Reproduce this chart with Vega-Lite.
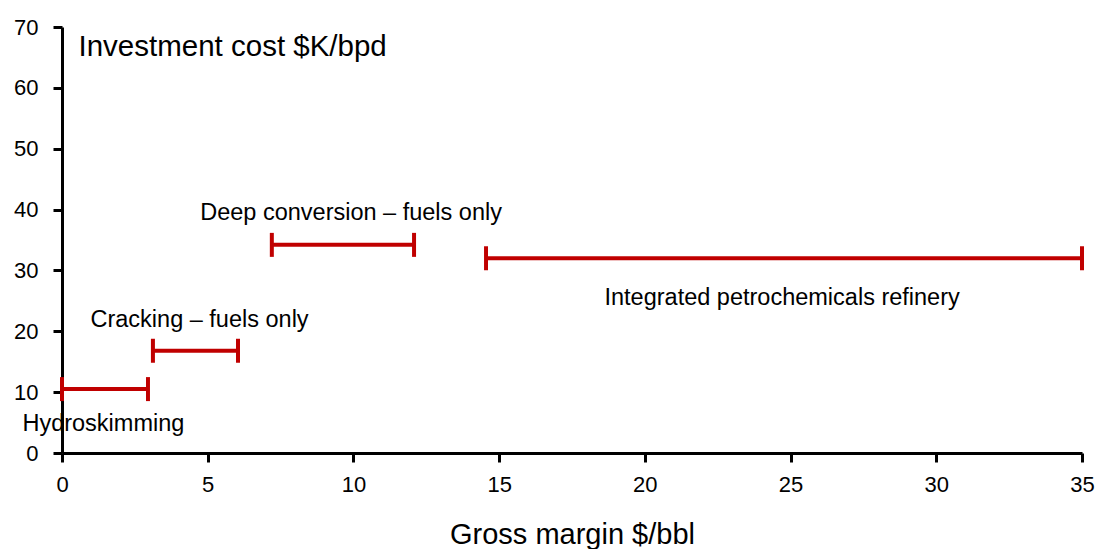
{
  "$schema": "https://vega.github.io/schema/vega-lite/v6.json",
  "width": 1020,
  "height": 426,
  "autosize": "none",
  "padding": {"left": 62, "top": 27, "right": 14, "bottom": 96},
  "background": "white",
  "config": {
    "view": {"stroke": null},
    "font": "Liberation Sans",
    "axis": {
      "grid": false,
      "domainColor": "black",
      "domainWidth": 3,
      "tickColor": "black",
      "tickWidth": 3,
      "tickSize": 9,
      "labelColor": "black",
      "labelFont": "Liberation Sans",
      "labelFontSize": 22,
      "labelFlush": false,
      "labelOverlap": false,
      "titleColor": "black",
      "titleFont": "Liberation Sans",
      "titleFontWeight": "normal"
    }
  },
  "data": {
    "values": [
      {"name": "Hydroskimming", "start": 0, "end": 2.95, "cost": 10.5, "lx": 1.42, "ly": 4.77},
      {"name": "Cracking – fuels only", "start": 3.12, "end": 6.04, "cost": 16.8, "lx": 4.72, "ly": 21.85},
      {"name": "Deep conversion – fuels only", "start": 7.2, "end": 12.08, "cost": 34.2, "lx": 9.92, "ly": 39.5},
      {"name": "Integrated petrochemicals refinery", "start": 14.55, "end": 35, "cost": 32.0, "lx": 24.71, "ly": 25.5}
    ]
  },
  "layer": [
    {
      "mark": {
        "type": "errorbar",
        "color": "#C00000",
        "opacity": 1,
        "rule": {"strokeWidth": 4, "color": "#C00000", "opacity": 1},
        "ticks": {"size": 24, "thickness": 4, "color": "#C00000", "opacity": 1}
      },
      "encoding": {
        "x": {
          "field": "start",
          "type": "quantitative",
          "scale": {"domain": [0, 35], "nice": false, "zero": true},
          "axis": {
            "values": [0, 5, 10, 15, 20, 25, 30, 35],
            "labelPadding": 12,
            "title": "Gross margin $/bbl",
            "titleFontSize": 29,
            "titleBaseline": "alphabetic",
            "titleY": 90
          }
        },
        "x2": {"field": "end"},
        "y": {
          "field": "cost",
          "type": "quantitative",
          "scale": {"domain": [0, 70], "nice": false},
          "axis": {
            "values": [0, 10, 20, 30, 40, 50, 60, 70],
            "labelPadding": 15,
            "title": "Investment cost $K/bpd",
            "titleFontSize": 29.5,
            "titleAngle": 0,
            "titleAlign": "left",
            "titleBaseline": "alphabetic",
            "titleX": 16,
            "titleY": 28
          }
        }
      }
    },
    {
      "mark": {
        "type": "text",
        "font": "Liberation Sans",
        "fontSize": 23.5,
        "color": "black",
        "align": "center",
        "baseline": "middle"
      },
      "encoding": {
        "x": {"field": "lx", "type": "quantitative"},
        "y": {"field": "ly", "type": "quantitative"},
        "text": {"field": "name"}
      }
    }
  ]
}
